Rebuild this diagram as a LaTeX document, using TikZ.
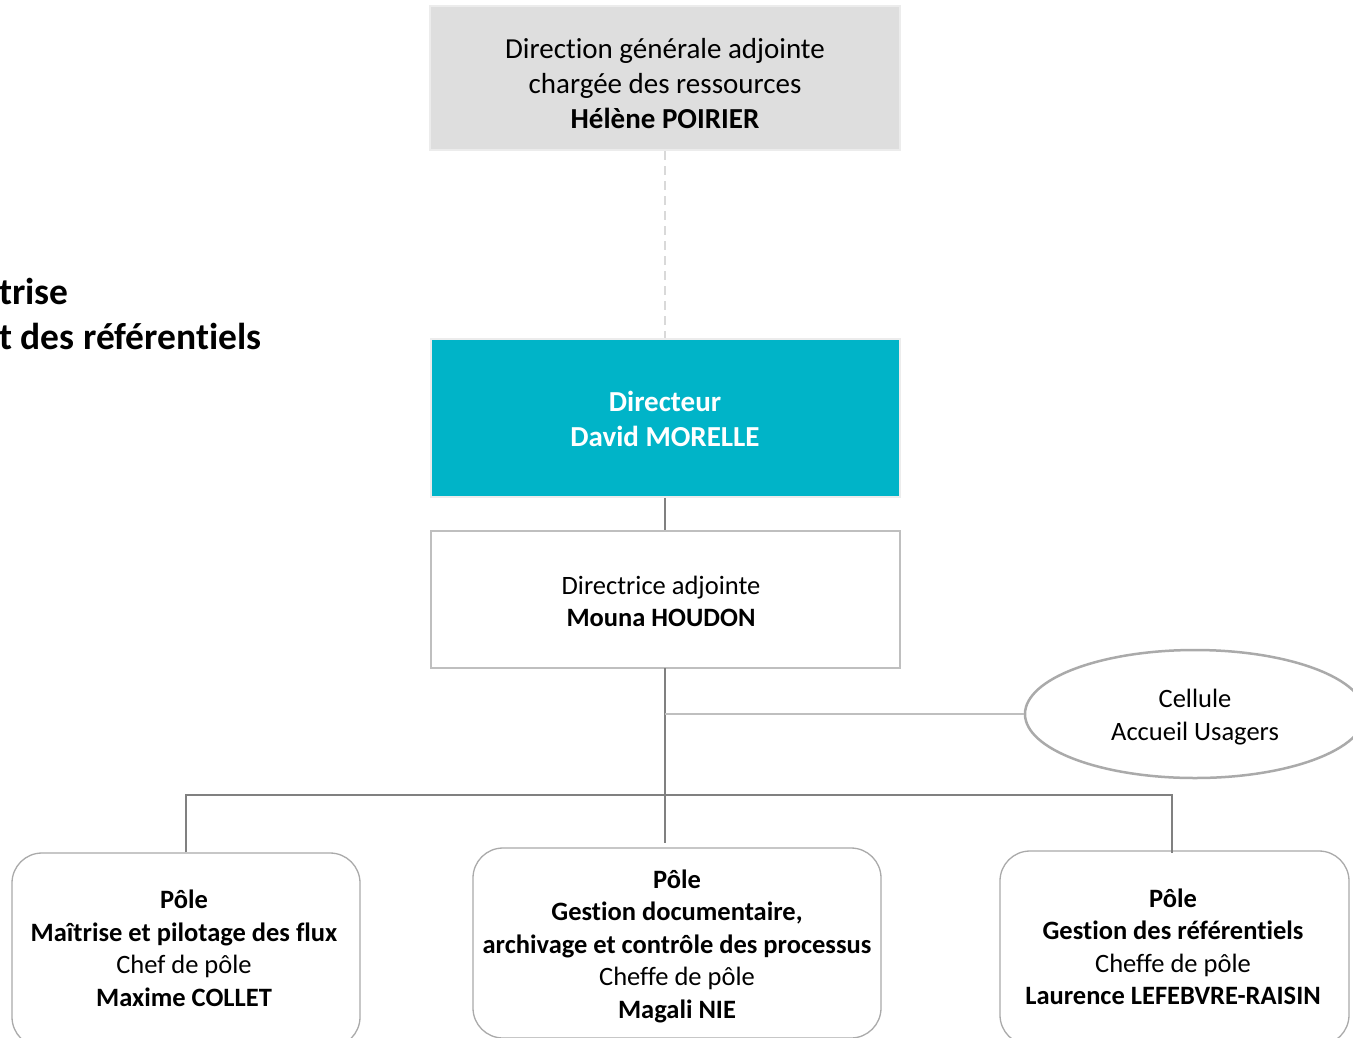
\documentclass[tikz,border=0pt]{standalone}
\usepackage{fontspec}
\setmainfont{Carlito}[RawFeature={-liga;-clig;-calt;-dlig}]
\usetikzlibrary{shapes.geometric}
\definecolor{topgray}{RGB}{222,222,222}
\definecolor{topborder}{RGB}{236,236,236}
\definecolor{teal}{RGB}{0,180,200}
\definecolor{dashgray}{RGB}{217,217,217}
\definecolor{linegray}{RGB}{128,128,128}
\definecolor{lightline}{RGB}{191,191,191}
\definecolor{boxborder}{RGB}{170,170,170}
\begin{document}
\begin{tikzpicture}[x=1pt,y=-1pt,
  big/.style={font=\fontsize{29}{35}\selectfont, align=center, inner sep=0pt},
  mid/.style={font=\fontsize{26.5}{32.5}\selectfont, align=center, inner sep=0pt},
  huge/.style={font=\fontsize{37.5}{45}\selectfont\bfseries, inner sep=0pt},
  rectbox/.style={rectangle, inner sep=0pt},
  pole/.style={rectangle, rounded corners=30pt, draw=boxborder, line width=1.3pt, fill=white, inner sep=0pt},
  conn/.style={draw=linegray, line width=2pt},
  thinconn/.style={draw=linegray, line width=1.4pt}
]
\useasboundingbox (0,0) rectangle (1353,1037);
\clip (0,0) rectangle (1353,1037);
\fill[white] (0,0) rectangle (1353,1037);

% left clipped title
\node[huge, anchor=base west] (lt1) at (-1,304) {trise};
\node[huge, anchor=base west] (lt2) at (-1,349) {t des référentiels};

% top box
\node[rectbox, fill=topgray, draw=topborder, line width=2pt, minimum width=470pt, minimum height=144pt] (dga) at (665,78) {};
\node[big] (dgat) at (665,84) {Direction générale adjointe\\chargée des ressources\\\textbf{Hélène POIRIER}};

% director
\node[rectbox, fill=teal, draw=topborder, line width=2pt, minimum width=469pt, minimum height=158pt] (dir) at (665,418) {};
\node[big, text=white, font=\fontsize{29}{35}\selectfont\bfseries] (dirt) at (665,419) {Directeur\\David MORELLE};

% deputy
\node[rectbox, fill=white, draw=lightline, line width=1.3pt, minimum width=469pt, minimum height=137pt] (dep) at (665.5,599.5) {};
\node[mid] (dept) at (661,601.5) {Directrice adjointe\\\textbf{Mouna HOUDON}};

% cellule
\node[ellipse, draw=boxborder, line width=2.5pt, fill=white, minimum width=340pt, minimum height=128pt, inner sep=0pt] (cell) at (1195,714) {};
\node[mid] (cellt) at (1195,717) {Cellule\\Accueil Usagers};

% poles
\node[pole, minimum width=348pt, minimum height=194pt] (p1) at (186,950) {};
\node[mid] (p1t) at (184,948.5) {\textbf{Pôle}\\\textbf{Maîtrise et pilotage des flux}\\Chef de pôle\\\textbf{Maxime COLLET}};
\node[pole, minimum width=408pt, minimum height=190pt] (p2) at (677,943) {};
\node[mid] (p2t) at (677,946) {\textbf{Pôle}\\\textbf{Gestion documentaire,}\\\textbf{archivage et contrôle des processus}\\Cheffe de pôle\\\textbf{Magali NIE}};
\node[pole, minimum width=349pt, minimum height=194pt] (p3) at (1174.5,948) {};
\node[mid] (p3t) at (1173,947) {\textbf{Pôle}\\\textbf{Gestion des référentiels}\\Cheffe de pôle\\\textbf{Laurence LEFEBVRE-RAISIN}};

% connectors
\draw[draw=dashgray, line width=2.5pt, dash pattern=on 9pt off 6pt] (dga.south) -- (dir.north);
\draw[conn] (dir.south) -- (dep.north -| dir.south);
\coordinate (jt) at (665,714);
\coordinate (jb) at (665,795);
\draw[conn] (665,668) -- (665,843);
\draw[draw=lightline, line width=1.5pt] (jt) -- (cell.west);
\draw[thinconn] (p1.north -| 186,0) -- (186,795) -- (1172,795) -- (1172,853);
\end{tikzpicture}
\end{document}
